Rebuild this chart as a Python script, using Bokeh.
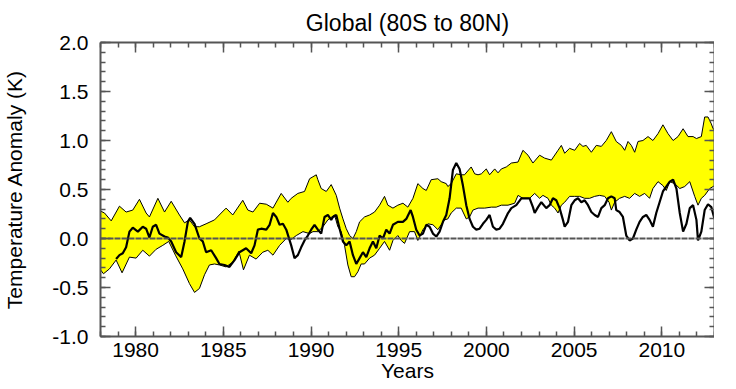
from bokeh.plotting import figure
from bokeh.models import LinearAxis, SingleIntervalTicker, Range1d, Span, CustomJSTickFormatter
from bokeh.embed import file_html
from bokeh.resources import INLINE

# ---------------- data ----------------
upper_year = [1978.00, 1978.23, 1978.61, 1979.08, 1979.46, 1979.84, 1980.22, 1980.60, 1980.79, 1981.27,
              1981.65, 1982.03, 1982.50, 1982.79, 1983.07, 1983.36, 1983.64, 1984.02, 1984.50, 1984.88,
              1985.16, 1985.54, 1986.11, 1986.40, 1986.69, 1987.07, 1987.45, 1987.83, 1988.30, 1988.68,
              1988.87, 1989.25, 1989.63, 1989.92, 1990.11, 1990.30, 1990.39, 1990.58, 1990.87, 1991.15,
              1991.44, 1991.63, 1991.82, 1992.01, 1992.20, 1992.39, 1992.58, 1992.77, 1993.05, 1993.34,
              1993.62, 1993.91, 1994.19, 1994.38, 1994.67, 1994.95, 1995.24, 1995.52, 1995.81, 1996.09,
              1996.38, 1996.57, 1996.85, 1997.23, 1997.42, 1997.71, 1997.80, 1997.99, 1998.28, 1998.56,
              1998.75, 1999.13, 1999.33, 1999.52, 1999.71, 1999.99, 2000.18, 2000.47, 2000.66, 2000.85,
              2001.13, 2001.42, 2001.80, 2002.08, 2002.37, 2002.65, 2003.03, 2003.32, 2003.70, 2004.08,
              2004.27, 2004.46, 2004.74, 2005.03, 2005.31, 2005.50, 2005.69, 2005.98, 2006.26, 2006.55,
              2006.83, 2007.12, 2007.40, 2007.69, 2007.88, 2008.07, 2008.26, 2008.45, 2008.64, 2008.92,
              2009.21, 2009.49, 2009.78, 2010.06, 2010.35, 2010.64, 2010.92, 2011.21, 2011.49, 2011.78,
              2011.97, 2012.25, 2012.44, 2012.63, 2012.82, 2012.92, 2013.00]
upper_val = [0.28, 0.26, 0.18, 0.33, 0.27, 0.29, 0.40, 0.26, 0.22, 0.41,
             0.27, 0.38, 0.24, 0.16, 0.19, 0.12, 0.12, 0.15, 0.19, 0.26,
             0.31, 0.24, 0.39, 0.29, 0.27, 0.36, 0.35, 0.31, 0.46, 0.37,
             0.41, 0.46, 0.48, 0.61, 0.63, 0.65, 0.60, 0.51, 0.48, 0.55,
             0.44, 0.31, 0.20, 0.10, 0.03, 0.00, 0.07, 0.17, 0.22, 0.24,
             0.27, 0.34, 0.43, 0.34, 0.31, 0.34, 0.36, 0.32, 0.41, 0.56,
             0.51, 0.49, 0.60, 0.61, 0.58, 0.56, 0.53, 0.56, 0.66, 0.65,
             0.65, 0.73, 0.66, 0.65, 0.66, 0.71, 0.65, 0.71, 0.67, 0.71,
             0.73, 0.77, 0.78, 0.90, 0.85, 0.77, 0.85, 0.82, 0.80, 0.90,
             0.95, 0.87, 0.92, 0.90, 0.97, 0.94, 0.95, 0.88, 0.95, 0.94,
             1.00, 1.09, 0.99, 0.95, 0.90, 0.99, 0.95, 0.88, 0.99, 1.00,
             1.04, 1.00, 1.07, 1.16, 1.07, 1.00, 1.04, 1.12, 1.04, 1.04,
             1.02, 1.04, 1.24, 1.24, 1.17, 1.12, 1.11]

lower_year = [1978.00, 1978.17, 1978.51, 1978.89, 1979.23, 1979.65, 1980.03, 1980.41, 1980.79, 1981.17,
              1981.55, 1981.89, 1982.27, 1982.69, 1983.07, 1983.36, 1983.64, 1983.93, 1984.21, 1984.50,
              1984.78, 1985.16, 1985.54, 1985.89, 1986.15, 1986.49, 1986.87, 1987.25, 1987.54, 1987.83,
              1988.21, 1988.59, 1988.87, 1989.16, 1989.54, 1989.92, 1990.11, 1990.39, 1990.68, 1990.96,
              1991.34, 1991.53, 1991.72, 1991.91, 1992.10, 1992.29, 1992.48, 1992.67, 1992.86, 1993.05,
              1993.34, 1993.62, 1993.91, 1994.19, 1994.48, 1994.67, 1994.95, 1995.14, 1995.33, 1995.62,
              1995.90, 1996.09, 1996.38, 1996.66, 1996.95, 1997.23, 1997.42, 1997.61, 1997.80, 1997.99,
              1998.28, 1998.56, 1998.85, 1999.04, 1999.23, 1999.52, 1999.90, 2000.28, 2000.56, 2000.85,
              2001.23, 2001.61, 2001.80, 2002.08, 2002.46, 2002.75, 2003.03, 2003.22, 2003.51, 2003.70,
              2003.89, 2004.08, 2004.27, 2004.46, 2004.74, 2005.03, 2005.31, 2005.60, 2005.88, 2006.17,
              2006.45, 2006.74, 2006.99, 2007.12, 2007.31, 2007.59, 2007.88, 2008.16, 2008.45, 2008.73,
              2009.02, 2009.30, 2009.49, 2009.78, 2010.06, 2010.25, 2010.45, 2010.73, 2011.02, 2011.30,
              2011.59, 2011.87, 2012.06, 2012.25, 2012.44, 2012.73, 2012.92, 2013.00]
lower_val = [-0.32, -0.36, -0.31, -0.22, -0.35, -0.19, -0.20, -0.12, -0.18, -0.11,
             -0.07, -0.03, -0.17, -0.31, -0.46, -0.55, -0.51, -0.37, -0.27, -0.26,
             -0.27, -0.29, -0.24, -0.13, -0.32, -0.17, -0.21, -0.14, -0.12, -0.17,
             -0.07, 0.00, -0.01, 0.03, 0.07, 0.05, 0.07, 0.07, 0.12, 0.19,
             0.24, 0.12, 0.07, -0.07, -0.27, -0.39, -0.39, -0.34, -0.26, -0.26,
             -0.20, -0.17, -0.10, -0.03, -0.12, -0.02, 0.03, -0.02, -0.05, 0.07,
             0.07, -0.02, 0.09, 0.15, 0.14, 0.09, 0.14, 0.19, 0.20, 0.26,
             0.31, 0.31, 0.20, 0.22, 0.29, 0.31, 0.31, 0.32, 0.32, 0.34,
             0.34, 0.36, 0.44, 0.41, 0.41, 0.46, 0.41, 0.44, 0.41, 0.34,
             0.31, 0.26, 0.34, 0.37, 0.43, 0.43, 0.43, 0.41, 0.41, 0.43,
             0.44, 0.43, 0.37, 0.29, 0.37, 0.41, 0.43, 0.41, 0.46, 0.43,
             0.46, 0.41, 0.51, 0.58, 0.54, 0.49, 0.58, 0.56, 0.51, 0.53,
             0.58, 0.43, 0.34, 0.41, 0.44, 0.51, 0.53, 0.54]

obs_year = [1978.89, 1979.08, 1979.27, 1979.46, 1979.65, 1979.84, 1980.13, 1980.41, 1980.60, 1980.79,
            1980.98, 1981.17, 1981.36, 1981.65, 1981.84, 1982.03, 1982.31, 1982.60, 1982.79, 1982.98,
            1983.11, 1983.36, 1983.64, 1983.83, 1984.02, 1984.31, 1984.59, 1984.78, 1985.07, 1985.35,
            1985.64, 1985.92, 1986.11, 1986.30, 1986.59, 1986.78, 1986.97, 1987.16, 1987.45, 1987.64,
            1987.83, 1988.02, 1988.21, 1988.40, 1988.59, 1988.87, 1989.06, 1989.25, 1989.44, 1989.63,
            1989.82, 1990.01, 1990.20, 1990.39, 1990.58, 1990.77, 1990.96, 1991.15, 1991.25, 1991.44,
            1991.63, 1991.82, 1992.01, 1992.20, 1992.39, 1992.58, 1992.77, 1992.96, 1993.15, 1993.34,
            1993.53, 1993.72, 1993.91, 1994.10, 1994.29, 1994.48, 1994.67, 1994.95, 1995.24, 1995.43,
            1995.68, 1995.81, 1996.00, 1996.19, 1996.38, 1996.57, 1996.76, 1996.95, 1997.14, 1997.33,
            1997.52, 1997.71, 1997.90, 1998.09, 1998.28, 1998.47, 1998.66, 1998.85, 1999.04, 1999.23,
            1999.42, 1999.61, 1999.80, 1999.99, 2000.18, 2000.37, 2000.56, 2000.75, 2000.94, 2001.23,
            2001.42, 2001.70, 2001.99, 2002.27, 2002.46, 2002.65, 2002.75, 2002.94, 2003.13, 2003.41,
            2003.60, 2003.79, 2003.98, 2004.17, 2004.36, 2004.46, 2004.65, 2004.84, 2005.03, 2005.22,
            2005.41, 2005.60, 2005.79, 2005.98, 2006.17, 2006.36, 2006.55, 2006.74, 2006.93, 2007.12,
            2007.31, 2007.40, 2007.59, 2007.78, 2007.88, 2007.97, 2008.16, 2008.35, 2008.54, 2008.73,
            2008.92, 2009.11, 2009.30, 2009.49, 2009.68, 2009.87, 2010.06, 2010.25, 2010.45, 2010.64,
            2010.83, 2011.02, 2011.21, 2011.40, 2011.59, 2011.78, 2011.97, 2012.06, 2012.25, 2012.44,
            2012.63, 2012.82, 2013.00]
obs_val = [-0.21, -0.17, -0.15, -0.09, 0.07, 0.11, 0.07, 0.12, 0.10, 0.01,
           0.12, 0.14, 0.05, 0.02, 0.01, -0.03, -0.14, -0.19, -0.03, 0.17,
           0.21, 0.15, 0.00, -0.03, -0.14, -0.12, -0.20, -0.26, -0.27, -0.29,
           -0.22, -0.14, -0.12, -0.10, -0.15, -0.07, 0.09, 0.10, 0.09, 0.14,
           0.26, 0.22, 0.14, 0.15, 0.09, -0.07, -0.20, -0.17, -0.09, -0.02,
           0.03, 0.09, 0.14, 0.09, 0.05, 0.22, 0.24, 0.19, 0.22, 0.24,
           0.10, -0.03, -0.07, -0.03, -0.17, -0.26, -0.20, -0.14, -0.19, -0.10,
           -0.03, -0.10, 0.03, 0.00, 0.09, 0.05, 0.14, 0.17, 0.17, 0.20,
           0.29, 0.22, 0.09, 0.03, 0.05, 0.14, 0.12, 0.05, 0.02, 0.07,
           0.17, 0.24, 0.41, 0.70, 0.77, 0.71, 0.54, 0.34, 0.20, 0.12,
           0.09, 0.10, 0.15, 0.19, 0.24, 0.12, 0.09, 0.10, 0.15, 0.26,
           0.31, 0.34, 0.41, 0.41, 0.41, 0.32, 0.26, 0.32, 0.37, 0.31,
           0.34, 0.41, 0.39, 0.31, 0.19, 0.12, 0.17, 0.34, 0.39, 0.41,
           0.37, 0.39, 0.34, 0.27, 0.24, 0.22, 0.31, 0.34, 0.41, 0.43,
           0.41, 0.29, 0.27, 0.22, 0.12, 0.03, -0.02, 0.00, 0.09, 0.17,
           0.22, 0.24, 0.19, 0.12, 0.26, 0.37, 0.48, 0.53, 0.58, 0.60,
           0.51, 0.26, 0.07, 0.15, 0.31, 0.34, 0.19, -0.02, 0.07, 0.29,
           0.35, 0.32, 0.20]

x_ticks_interval = 5
y_ticks_interval = 0.5

# ---------------- figure ----------------
FONT = "Liberation Sans"
p = figure(frame_width=614, frame_height=294,
           x_range=Range1d(1978, 2013), y_range=Range1d(-1.0, 2.0),
           output_backend="svg", toolbar_location=None,
           min_border_left=0, min_border_right=0, min_border_top=0, min_border_bottom=0,
           title="Global (80S to 80N)", x_axis_label="Years",
           y_axis_label="Temperature Anomaly (K)")
p.xgrid.visible = False
p.ygrid.visible = False
p.outline_line_color = None
p.background_fill_color = "white"
p.border_fill_color = "white"

p.title.align = "center"
p.title.text_font = FONT
p.title.text_font_size = "23px"
p.title.text_font_style = "normal"
p.title.text_color = "black"
p.title.standoff = 14

AX_COLOR = "#555555"

def style_axis(ax, ticker, show_labels):
    ax.ticker = ticker
    ax.axis_line_color = AX_COLOR
    ax.axis_line_width = 2
    ax.major_tick_line_color = AX_COLOR
    ax.minor_tick_line_color = AX_COLOR
    ax.major_tick_line_width = 1.5
    ax.minor_tick_line_width = 1.5
    ax.major_tick_in = 10
    ax.major_tick_out = 0
    ax.minor_tick_in = 5
    ax.minor_tick_out = 0
    if show_labels:
        ax.major_label_text_font = FONT
        ax.major_label_text_font_size = "21px"
        ax.major_label_text_color = "black"
        ax.axis_label_text_font = FONT
        ax.axis_label_text_font_size = "21px"
        ax.axis_label_text_font_style = "normal"
        ax.axis_label_text_color = "black"
    else:
        ax.formatter = CustomJSTickFormatter(code="return '';")
        ax.major_label_standoff = 0

xa = p.xaxis[0]
ya = p.yaxis[0]
style_axis(xa, SingleIntervalTicker(interval=x_ticks_interval, num_minor_ticks=5), True)
style_axis(ya, SingleIntervalTicker(interval=y_ticks_interval, num_minor_ticks=5), True)
xa.major_label_standoff = 6
xa.axis_label_standoff = -1
ya.major_label_standoff = 12
ya.axis_label_standoff = 23
ya.formatter = CustomJSTickFormatter(code="return tick.toFixed(1);")

top = LinearAxis()
style_axis(top, SingleIntervalTicker(interval=x_ticks_interval, num_minor_ticks=5), False)
p.add_layout(top, "above")
right = LinearAxis()
style_axis(right, SingleIntervalTicker(interval=y_ticks_interval, num_minor_ticks=5), False)
p.add_layout(right, "right")

# band between the two envelopes
band_x = upper_year + lower_year[::-1]
band_y = upper_val + lower_val[::-1]
p.patch(band_x, band_y, fill_color="#FFFF00", line_color=None)
p.line(upper_year, upper_val, line_color="black", line_width=1)
p.line(lower_year, lower_val, line_color="black", line_width=1)

zero = Span(location=0, dimension="width", line_color="#555555", line_width=2, line_dash="6 1")
p.add_layout(zero)

p.line(obs_year, obs_val, line_color="black", line_width=2.2)

open("out.html", "w").write(file_html(p, INLINE))
